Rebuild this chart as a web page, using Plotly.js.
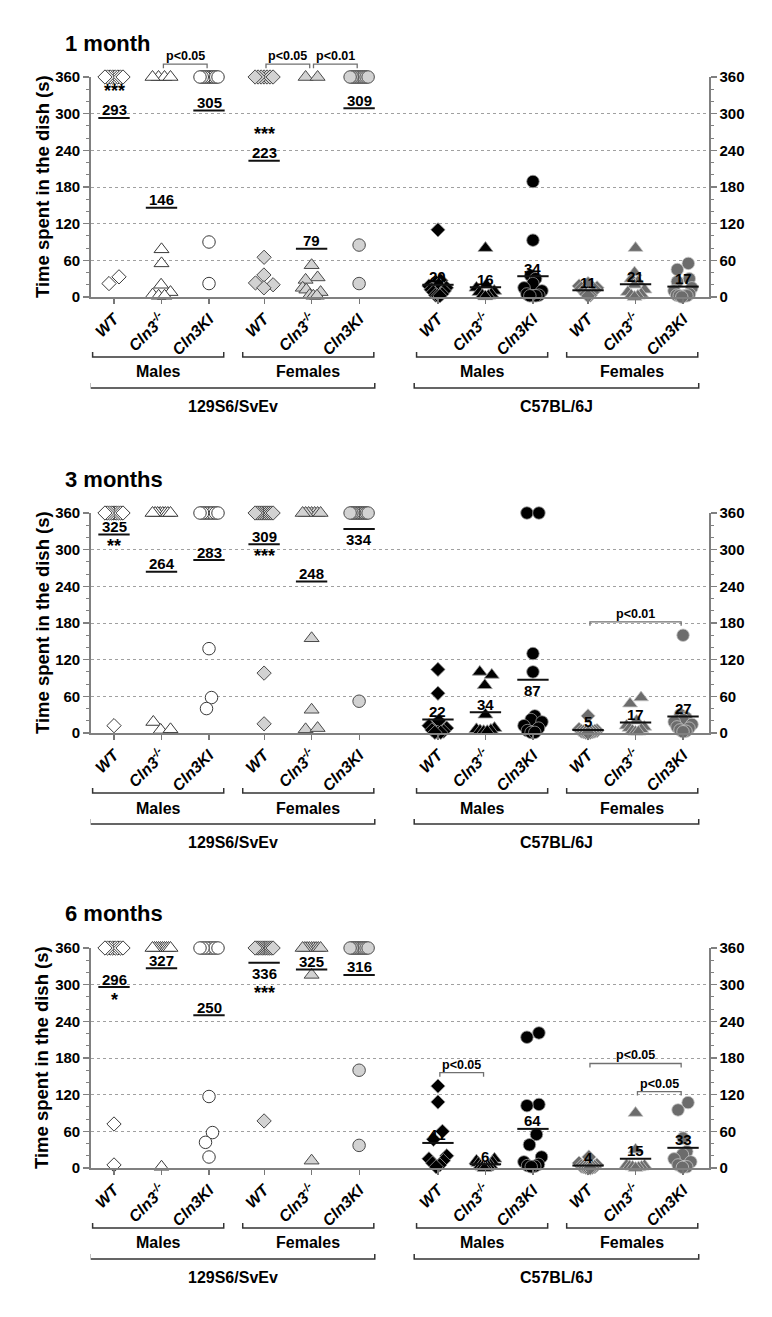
<!DOCTYPE html>
<html><head><meta charset="utf-8">
<script src="https://cdn.plot.ly/plotly-3.0.1.min.js"></script>
<style>html,body{margin:0;padding:0;background:#fff}#chart{width:772px;height:1317px}</style>
</head><body><div id="chart"></div>
<script>
// ================= DATA =================
const panelTitles = ['1 month', '3 months', '6 months'];
const genotypeLabels = ['WT', 'Cln3<sup>-/-</sup>', 'Cln3KI'];
const sexLabels = ['Males', 'Females'];
const strainLabels = ['129S6/SvEv', 'C57BL/6J'];
const yTitle = 'Time spent in the dish (s)';
const yTicks = [0, 60, 120, 180, 240, 300, 360];

// group order: 129 M WT, Cln3-/-, Cln3KI | 129 F WT, Cln3-/-, Cln3KI | C57 M ... | C57 F ...
const values1m = [
  [360, 360, 360, 360, 360, 360, 360, 360, 22, 33],
  [360, 360, 360, 360, 78, 55, 20, 8, 4, 2, 2],
  [360, 360, 360, 360, 360, 360, 360, 360, 360, 90, 22],
  [360, 360, 360, 360, 360, 360, 360, 65, 36, 23, 20, 15],
  [360, 360, 52, 32, 28, 15, 12, 8, 3, 2, 2],
  [360, 360, 360, 360, 360, 360, 360, 360, 360, 360, 85, 22],
  [110, 27, 24, 20, 18, 15, 12, 10, 8, 5, 3, 2, 2],
  [80, 20, 15, 10, 8, 5, 3, 2, 1],
  [189, 93, 35, 30, 22, 15, 10, 5, 3, 2, 2, 2],
  [22, 18, 15, 14, 12, 10, 8, 5, 3, 2],
  [80, 40, 30, 25, 20, 12, 8, 5, 3, 2, 0],
  [55, 45, 30, 25, 15, 10, 5, 3, 2, 2, 2, 0]
];
const means1m = [293, 146, 305, 223, 79, 309, 20, 16, 34, 11, 21, 17];

const values3m = [
  [360, 360, 360, 360, 360, 360, 360, 360, 360, 12],
  [360, 360, 360, 360, 360, 360, 360, 360, 18, 5, 6],
  [360, 360, 360, 360, 360, 360, 360, 360, 138, 58, 40],
  [360, 360, 360, 360, 360, 360, 360, 360, 360, 360, 98, 15],
  [360, 360, 360, 360, 360, 360, 360, 155, 38, 6, 8],
  [360, 360, 360, 360, 360, 360, 360, 360, 360, 360, 360, 52],
  [104, 65, 20, 12, 8, 5, 3, 1, 1, 1],
  [100, 95, 78, 30, 8, 6, 5, 4, 3, 3],
  [360, 360, 130, 100, 28, 22, 18, 12, 8, 4, 1, 1],
  [28, 6, 4, 3, 3, 2, 2, 1, 1, 0],
  [58, 48, 20, 12, 10, 8, 6, 4, 2, 2],
  [160, 30, 25, 22, 18, 14, 10, 8, 5, 3, 2]
];
const means3m = [325, 264, 283, 309, 248, 334, 22, 34, 87, 5, 17, 27];

const values6m = [
  [360, 360, 360, 360, 360, 360, 360, 360, 72, 5],
  [360, 360, 360, 360, 360, 360, 360, 360, 360, 360, 2],
  [360, 360, 360, 360, 360, 360, 360, 117, 58, 42, 18],
  [360, 360, 360, 360, 360, 360, 360, 360, 360, 360, 360, 77],
  [360, 360, 360, 360, 360, 360, 360, 360, 360, 316, 12],
  [360, 360, 360, 360, 360, 360, 360, 360, 360, 360, 160, 37],
  [134, 108, 60, 47, 20, 15, 12, 8, 5, 2],
  [15, 12, 10, 8, 5, 4, 3, 2, 1, 0],
  [221, 214, 104, 102, 55, 38, 18, 10, 6, 4, 3, 2],
  [18, 8, 5, 3, 2, 2, 1, 1, 0, 0],
  [90, 30, 5, 4, 3, 2, 2, 1, 0],
  [107, 95, 49, 27, 22, 15, 10, 5, 2, 1]
];
const means6m = [296, 327, 250, 336, 325, 316, 41, 6, 64, 4, 15, 33];

// significance marks (group index, text)
const stars1m = [[0, '***'], [3, '***']];
const stars3m = [[0, '**'], [3, '***']];
const stars6m = [[0, '*'], [3, '***']];

// pairwise comparisons: [from group, to group, bracket level (s), text]
const pvals1m = [[1, 2, 381, 'p<0.05'], [3, 4, 381, 'p<0.05'], [4, 5, 381, 'p<0.01']];
const pvals3m = [[9, 11, 182, 'p<0.01']];
const pvals6m = [[6, 7, 156, 'p<0.05'], [9, 11, 171, 'p<0.05'], [10, 11, 125, 'p<0.05']];

// ================= LAYOUT CONFIG =================
const W = 772, H = 1317;
const AX_L = 90.7, AX_R = 709, CAT0 = 114, CAT_STEP = 47.5;
const ZERO_PX = [297, 733, 1168], PLOT_H = 220, YMAX = 360;
const PXY = PLOT_H / YMAX;
const FONT = 'Arial, "Liberation Sans", sans-serif';
const belowLabel = [[], [5, 8], [3]];          // mean labels drawn under their line
const starShift = [[27, 27], [-12, -12], [-13, -30]]; // px shift of star annotation from mean line

const slotPos = i => i + Math.floor(i / 3) * 0.16 + Math.floor(i / 6) * 0.5;
const xRange = [(AX_L - CAT0) / CAT_STEP, (AX_R - CAT0) / CAT_STEP];

const styles = [
  {fill: '#ffffff', line: '#3a3a3a', lw: 1},
  {fill: '#d2d2d2', line: '#4a4a4a', lw: 1},
  {fill: '#000000', line: '#9a9a9a', lw: 0.8},
  {fill: '#6c6c6c', line: '#c6c6c6', lw: 0.8}
];
const symbols = ['diamond', 'triangle-up', 'circle'];
const sizes = [11, 13, 12.5];

// simple beeswarm: offsets in px, converted to axis units
function swarm(vals) {
  const D = 12, HALF = 9;
  const n = vals.length;
  const order = vals.map((v, i) => i).sort((a, b) => vals[a] - vals[b]);
  const px = new Array(n).fill(0), py = vals.map(v => v * PXY);
  const done = [];
  for (const i of order) {
    for (let k = 0; k < 600; k++) {
      const c = k === 0 ? 0 : (k % 2 === 1 ? (k + 1) / 2 : -k / 2);
      if (done.every(j => (px[j] - c) ** 2 + (py[j] - py[i]) ** 2 >= D * D)) { px[i] = c; break; }
    }
    done.push(i);
  }
  const comp = new Array(n).fill(-1); let nc = 0;
  for (let i = 0; i < n; i++) {
    if (comp[i] >= 0) continue;
    const st = [i]; comp[i] = nc;
    while (st.length) {
      const a = st.pop();
      for (let b = 0; b < n; b++) {
        if (comp[b] < 0 && (px[a] - px[b]) ** 2 + (py[a] - py[b]) ** 2 <= (D * 1.2) ** 2) { comp[b] = nc; st.push(b); }
      }
    }
    nc++;
  }
  for (let c = 0; c < nc; c++) {
    const ids = []; for (let i = 0; i < n; i++) if (comp[i] === c) ids.push(i);
    const m = ids.reduce((s, i) => s + px[i], 0) / ids.length;
    ids.forEach(i => px[i] -= m);
    const mx = Math.max(...ids.map(i => Math.abs(px[i])));
    if (mx > HALF) ids.forEach(i => px[i] *= HALF / mx);
  }
  return px.map(o => o / CAT_STEP);
}

const panels = [
  {title: panelTitles[0], vals: values1m, means: means1m, stars: stars1m, pv: pvals1m},
  {title: panelTitles[1], vals: values3m, means: means3m, stars: stars3m, pv: pvals3m},
  {title: panelTitles[2], vals: values6m, means: means6m, stars: stars6m, pv: pvals6m}
];

const data = [], shapes = [], annotations = [];
const layout = {
  width: W, height: H, margin: {l: 0, r: 0, t: 0, b: 0},
  paper_bgcolor: '#fff', plot_bgcolor: 'rgba(0,0,0,0)',
  font: {family: FONT, color: '#000'}, showlegend: false,
  shapes: shapes, annotations: annotations
};

const tickVals = []; const tickText = [];
for (let i = 0; i < 12; i++) { tickVals.push(slotPos(i)); tickText.push(genotypeLabels[i % 3]); }

panels.forEach((P, p) => {
  const xs = p === 0 ? '' : String(p + 1);
  const yl = p === 0 ? '' : String(2 * p + 1);
  const yr = String(2 * p + 2);
  const xid = 'x' + xs, ylid = 'y' + yl, yrid = 'y' + yr;
  const dom = [(H - ZERO_PX[p]) / H, (H - ZERO_PX[p] + PLOT_H) / H];
  const ydom = ylid + ' domain';
  const px2d = v => v / PLOT_H; // px -> domain fraction

  layout['xaxis' + xs] = {
    domain: [AX_L / W, AX_R / W], range: xRange, anchor: ylid,
    tickmode: 'array', tickvals: tickVals, ticktext: tickText, tickangle: -45,
    ticks: 'outside', ticklen: 5, tickcolor: '#777', tickwidth: 1.2,
    tickfont: {family: FONT, size: 16, weight: 'bold', style: 'italic', color: '#000'},
    showline: true, linecolor: '#808080', linewidth: 1.5,
    showgrid: false, zeroline: false, fixedrange: true
  };
  const yBase = {
    range: [0, YMAX], tickmode: 'array', tickvals: yTicks,
    ticks: 'outside', ticklen: 6, tickcolor: '#808080', tickwidth: 1.2,
    minor: {tickmode: 'linear', tick0: 0, dtick: 20, ticks: 'outside', ticklen: 3, tickcolor: '#808080', showgrid: false},
    tickfont: {family: FONT, size: 15, weight: 'bold', color: '#000'},
    showline: true, linecolor: '#808080', linewidth: 1.5, zeroline: false, fixedrange: true
  };
  layout['yaxis' + yl] = Object.assign({}, yBase, {
    domain: dom, anchor: xid, side: 'left',
    showgrid: true, gridcolor: '#a0a0a0', griddash: 'dot', gridwidth: 1
  });
  layout['yaxis' + yr] = Object.assign({}, yBase, {
    overlaying: ylid, anchor: xid, side: 'right', showgrid: false
  });

  // invisible trace so the right axis is drawn
  data.push({type: 'scatter', x: [0], y: [0], xaxis: xid, yaxis: yrid, mode: 'markers',
    marker: {opacity: 0}, hoverinfo: 'skip', showlegend: false});

  // points
  P.vals.forEach((vals, i) => {
    const st = styles[Math.floor(i / 3)];
    const offs = swarm(vals);
    data.push({
      type: 'scatter', mode: 'markers', xaxis: xid, yaxis: ylid,
      x: offs.map(o => slotPos(i) + o), y: vals, cliponaxis: false,
      marker: {symbol: symbols[i % 3], size: sizes[i % 3], color: st.fill,
        line: {color: st.line, width: st.lw}},
      hoverinfo: 'skip', showlegend: false
    });
  });

  // means
  P.means.forEach((m, i) => {
    shapes.push({type: 'line', xref: xid, yref: ylid, x0: slotPos(i) - 0.33, x1: slotPos(i) + 0.33,
      y0: m, y1: m, line: {color: '#111', width: 2}, layer: 'above'});
    const below = belowLabel[p].includes(i);
    annotations.push({xref: xid, yref: ylid, x: slotPos(i), y: m, text: String(m), showarrow: false,
      yanchor: 'middle', yshift: below ? -11 : 8,
      font: {family: FONT, size: 15, weight: 'bold', color: '#000'}});
  });

  // stars
  P.stars.forEach(([g, txt], k) => {
    annotations.push({xref: xid, yref: ylid, x: slotPos(g), y: P.means[g], text: txt, showarrow: false,
      yanchor: 'middle', yshift: starShift[p][k],
      font: {family: FONT, size: 18, weight: 'bold', color: '#000'}});
  });

  // p-value brackets
  P.pv.forEach(([a, b, lvl, txt]) => {
    const x1 = slotPos(a) + 0.04, x2 = slotPos(b) - 0.04;
    const yt = lvl / YMAX, yb = yt - px2d(4);
    shapes.push({type: 'path', xref: xid, yref: ydom,
      path: `M${x1},${yb} L${x1},${yt} L${x2},${yt} L${x2},${yb}`,
      line: {color: '#707070', width: 1.3}});
    annotations.push({xref: xid, yref: ydom, x: (x1 + x2) / 2, y: yt, text: txt, showarrow: false,
      yanchor: 'bottom', yshift: -1, font: {family: FONT, size: 12.5, weight: 'bold', color: '#000'}});
  });

  // group brackets (sex within strain)
  for (let g = 0; g < 4; g++) {
    const x1 = slotPos(3 * g) - 0.45, x2 = slotPos(3 * g + 2) + 0.31;
    const yl1 = -px2d(60), yl0 = -px2d(55);
    shapes.push({type: 'path', xref: xid, yref: ydom,
      path: `M${x1},${yl0} L${x1},${yl1} L${x2},${yl1} L${x2},${yl0}`,
      line: {color: '#333', width: 1.5}});
    annotations.push({xref: xid, yref: ydom, x: (x1 + x2) / 2, y: -px2d(75), text: sexLabels[g % 2],
      showarrow: false, yanchor: 'middle', font: {family: FONT, size: 16, weight: 'bold', color: '#000'}});
  }
  // strain brackets
  for (let s = 0; s < 2; s++) {
    const x1 = slotPos(6 * s) - 0.5, x2 = slotPos(6 * s + 5) + 0.33;
    const yl1 = -px2d(91), yl0 = -px2d(86);
    shapes.push({type: 'path', xref: xid, yref: ydom,
      path: `M${x1},${yl0} L${x1},${yl1} L${x2},${yl1} L${x2},${yl0}`,
      line: {color: '#333', width: 1.5}});
    annotations.push({xref: xid, yref: ydom, x: (x1 + x2) / 2, y: -px2d(109), text: strainLabels[s],
      showarrow: false, yanchor: 'middle', font: {family: FONT, size: 16, weight: 'bold', color: '#000'}});
  }

  // panel title
  annotations.push({xref: 'paper', yref: ydom, x: 63 / W, y: 1 + px2d(34), text: P.title, showarrow: false,
    xanchor: 'left', yanchor: 'middle', font: {family: FONT, size: 22, weight: 'bold', color: '#000'}});
  // y-axis title
  annotations.push({xref: 'paper', yref: ydom, x: 42 / W, y: 0.5, text: yTitle, showarrow: false,
    textangle: -90, xanchor: 'center', yanchor: 'middle',
    font: {family: FONT, size: 18.5, weight: 'bold', color: '#000'}});
});

Plotly.newPlot('chart', data, layout, {staticPlot: true, displayModeBar: false});
</script>
</body></html>
